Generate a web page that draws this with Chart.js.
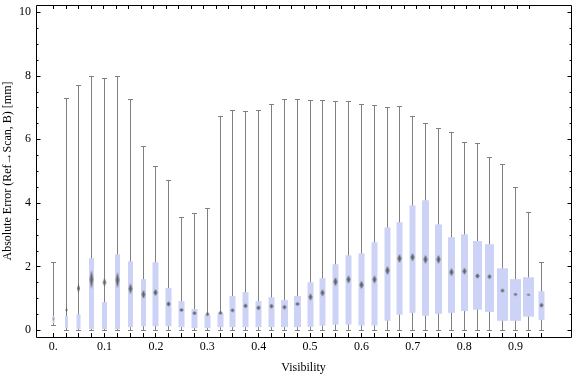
<!DOCTYPE html>
<html>
<head>
<meta charset="utf-8">
<script src="https://cdn.jsdelivr.net/npm/chart.js@4.4.0/dist/chart.umd.min.js"></script>
<style>
    html, body { margin: 0; padding: 0; background: #fff; }
</style>
</head>
<body>
<canvas id="chart" width="576" height="377"></canvas>
<script>
"use strict";

// one box per visibility bin
var visibility = [0, 0.025, 0.05, 0.075, 0.1, 0.125, 0.15, 0.175, 0.2, 0.225,
    0.25, 0.275, 0.3, 0.325, 0.35, 0.375, 0.4, 0.425, 0.45, 0.475,
    0.5, 0.525, 0.55, 0.575, 0.6, 0.625, 0.65, 0.675, 0.7, 0.725,
    0.75, 0.775, 0.8, 0.825, 0.85, 0.875, 0.9, 0.925, 0.95];
var whiskerLow = [0.13, 0, 0, 0, 0, 0, 0, 0, 0, 0,
    0, 0, 0, 0, 0, 0, 0, 0, 0, 0,
    0, 0, 0, 0, 0, 0, 0, 0, 0, 0,
    0, 0, 0, 0, 0, 0, 0, 0, 0];
var boxLow = [0.22, 0.07, 0.03, 0.03, 0.03, 0.03, 0.09, 0.12, 0.12, 0.12,
    0.09, 0.06, 0.06, 0.09, 0.09, 0.09, 0.09, 0.09, 0.09, 0.09,
    0.10, 0.14, 0.17, 0.17, 0.14, 0.14, 0.29, 0.48, 0.54, 0.45,
    0.51, 0.54, 0.60, 0.64, 0.57, 0.29, 0.29, 0.42, 0.32];
var boxHigh = [0.45, 0.44, 0.50, 2.26, 0.88, 2.38, 2.16, 1.60, 2.13, 1.32,
    0.91, 0.66, 0.47, 0.53, 1.07, 1.19, 0.91, 1.03, 0.94, 1.07,
    1.50, 1.63, 2.07, 2.35, 2.41, 2.76, 3.23, 3.39, 3.92, 4.08,
    3.32, 2.92, 3.01, 2.80, 2.70, 1.94, 1.60, 1.66, 1.22];
var whiskerHigh = [2.13, 7.29, 7.70, 7.97, 7.92, 7.97, 7.26, 5.77, 5.15, 4.69,
    3.53, 3.67, 3.81, 6.70, 6.89, 6.87, 6.89, 7.10, 7.25, 7.25,
    7.23, 7.23, 7.20, 7.20, 7.10, 7.07, 7.01, 7.04, 6.70, 6.48,
    6.35, 6.20, 5.91, 5.85, 5.42, 5.19, 4.47, 3.69, 2.12];
// mean marker (diamond) and its confidence half-range
var meanValue = [0.35, 0.63, 1.31, 1.59, 1.50, 1.57, 1.30, 1.12, 1.18, 0.82,
    0.63, 0.53, 0.50, 0.54, 0.62, 0.76, 0.70, 0.75, 0.72, 0.82,
    1.04, 1.17, 1.52, 1.59, 1.42, 1.59, 1.87, 2.25, 2.29, 2.22,
    2.22, 1.82, 1.85, 1.70, 1.68, 1.24, 1.12, 1.11, 0.78];
var meanConf = [0.08, 0.09, 0.16, 0.30, 0.125, 0.25, 0.17, 0.14, 0.11, 0.09,
    0.06, 0.06, 0.06, 0.06, 0.06, 0.08, 0.08, 0.08, 0.08, 0.06,
    0.11, 0.11, 0.14, 0.125, 0.125, 0.125, 0.14, 0.14, 0.125, 0.14,
    0.14, 0.125, 0.11, 0.09, 0.08, 0.06, 0.05, 0.03, 0.08];
// relative bin weight (box width)
var binWeight = [0.14, 0.27, 0.36, 0.45, 0.45, 0.45, 0.45, 0.45, 0.55, 0.55,
    0.55, 0.55, 0.55, 0.55, 0.55, 0.55, 0.55, 0.55, 0.62, 0.62,
    0.55, 0.55, 0.55, 0.55, 0.55, 0.55, 0.55, 0.55, 0.55, 0.64,
    0.64, 0.64, 0.64, 0.84, 0.82, 1.0, 1.0, 0.97, 0.57];

var xTickValues = [0, 0.1, 0.2, 0.3, 0.4, 0.5, 0.6, 0.7, 0.8, 0.9];
var xTickLabels = ["0.", "0.1", "0.2", "0.3", "0.4", "0.5", "0.6", "0.7", "0.8", "0.9"];
var yTickValues = [0, 2, 4, 6, 8, 10];

var BOX_COLOR = "rgb(204,211,246)";
var WHISKER_COLOR = "rgb(128,128,128)";
var MEAN_COLOR = "rgb(100,100,100)";
var FONT = { family: "'Liberation Serif', 'Times New Roman', serif", size: 12 };

function _boxPixelWidth(chart, i) {
    var xs = chart.scales.x;
    var step = xs.getPixelForValue(visibility[1]) - xs.getPixelForValue(visibility[0]);
    return binWeight[i] * 0.85 * step;
}

function _diamond(ctx) {
    var chart = ctx.chart;
    var ys = chart.scales.y;
    var i = ctx.dataIndex;
    if (ctx.type !== "data" || !ys || !isFinite(ys.getPixelForValue(0))) {
        return "rectRot";
    }
    var hh = Math.abs(ys.getPixelForValue(meanValue[i] + meanConf[i]) - ys.getPixelForValue(meanValue[i]));
    hh = Math.max(hh, 1);
    var hw = Math.min(2.0, 0.36 * _boxPixelWidth(chart, i));
    var c = document.createElement("canvas");
    c.width = Math.ceil(2 * hw) + 4;
    c.height = Math.ceil(2 * hh) + 4;
    var g = c.getContext("2d");
    var cx = c.width / 2, cy = c.height / 2;
    g.fillStyle = MEAN_COLOR;
    g.beginPath();
    g.moveTo(cx, cy - hh);
    g.lineTo(cx + hw, cy);
    g.lineTo(cx, cy + hh);
    g.lineTo(cx - hw, cy);
    g.closePath();
    g.fill();
    return c;
}

// keep the plot frame fixed: no extra room for edge labels
function _noPadding(axis) {
    axis.paddingLeft = 0;
    axis.paddingRight = 0;
    axis.paddingTop = 0;
    axis.paddingBottom = 0;
}

var framePlugin = {
    id: "frame",
    afterDatasetsUpdate: function(chart) {
        // snap marks to the pixel grid so 1px lines stay crisp
        [0, 1, 2, 3].forEach(function(d) {
            chart.getDatasetMeta(d).data.forEach(function(el) {
                el.x = Math.floor(el.x) + 0.5;
            });
        });
        chart.getDatasetMeta(2).data.forEach(function(el) {
            el.y = Math.floor(el.y) + 0.5;
        });
        // box widths follow the bin weight
        chart.getDatasetMeta(1).data.forEach(function(bar, i) {
            bar.width = Math.max(1, Math.round(_boxPixelWidth(chart, i)));
        });
    },
    afterDraw: function(chart) {
        var ctx = chart.ctx;
        var a = chart.chartArea;
        var xs = chart.scales.x, ys = chart.scales.y, xt = chart.scales.x2;
        ctx.save();
        ctx.strokeStyle = "#000";
        ctx.lineWidth = 1;
        ctx.beginPath();
        ctx.rect(a.left + 0.5, a.top + 0.5, a.right - a.left, a.bottom - a.top);
        for (var v = 0; v <= 10; v += 0.5) {
            var y = Math.round(ys.getPixelForValue(v)) + 0.5;
            var len = yTickValues.indexOf(v) >= 0 ? 4.5 : 2.5;
            ctx.moveTo(a.left, y);
            ctx.lineTo(a.left + len, y);
            ctx.moveTo(a.right + 1, y);
            ctx.lineTo(a.right + 1 - len, y);
        }
        visibility.forEach(function(val, i) {
            var x = Math.floor(xs.getPixelForValue(val)) + 0.5;
            ctx.moveTo(x, a.bottom);
            ctx.lineTo(x, a.bottom - 4);
            var xx = Math.round(xt.getPixelForValue(i)) + 0.5;
            ctx.moveTo(xx, a.top);
            ctx.lineTo(xx, a.top + 4);
        });
        ctx.stroke();
        ctx.restore();
    }
};

function _pairs(ys) {
    return visibility.map(function(x, i) {
        return { x: x, y: ys[i] };
    });
}

function _ranges(lo, hi) {
    return visibility.map(function(x, i) {
        return { x: x, y: [lo[i], hi[i]] };
    });
}

var caps = _pairs(whiskerLow).concat(_pairs(whiskerHigh));

new Chart(document.getElementById("chart"), {
    data: {
        datasets: [
            {
                type: "scatter",
                data: _pairs(meanValue),
                pointStyle: _diamond,
                pointRadius: 3,
                order: 0
            },
            {
                type: "bar",
                data: _ranges(boxLow, boxHigh),
                backgroundColor: BOX_COLOR,
                borderWidth: 0,
                inflateAmount: 0,
                grouped: false,
                order: 1
            },
            {
                type: "scatter",
                data: caps,
                pointStyle: "line",
                pointRadius: 2.5,
                borderWidth: 1,
                borderColor: WHISKER_COLOR,
                order: 2
            },
            {
                type: "bar",
                data: _ranges(whiskerLow, whiskerHigh),
                backgroundColor: WHISKER_COLOR,
                borderWidth: 0,
                inflateAmount: 0,
                grouped: false,
                maxBarThickness: 1,
                order: 3
            }
        ]
    },
    options: {
        responsive: false,
        animation: false,
        events: [],
        layout: { padding: { top: 4, right: 1, left: 0, bottom: 0 } },
        plugins: {
            legend: { display: false },
            tooltip: { enabled: false }
        },
        scales: {
            x: {
                type: "linear",
                position: "bottom",
                offset: false,
                min: -0.0334,
                max: 1.0079,
                afterBuildTicks: function(axis) {
                    axis.ticks = xTickValues.map(function(v) { return { value: v }; });
                },
                afterFit: function(axis) {
                    axis.height = 40;
                    _noPadding(axis);
                },
                grid: { display: false, drawTicks: false, offset: false },
                border: { display: false },
                ticks: {
                    autoSkip: false,
                    maxRotation: 0,
                    padding: 3,
                    color: "#000",
                    font: FONT,
                    callback: function(value, index) { return xTickLabels[index]; }
                },
                title: {
                    display: true,
                    text: "Visibility",
                    color: "#000",
                    font: FONT,
                    padding: { top: 0, bottom: 2 }
                }
            },
            x2: {
                type: "linear",
                position: "top",
                offset: false,
                min: -1.371,
                max: 41.35,
                afterBuildTicks: function(axis) {
                    axis.ticks = visibility.map(function(v, i) { return { value: i }; });
                },
                afterFit: function(axis) {
                    axis.height = 0;
                    _noPadding(axis);
                },
                grid: { display: false, drawTicks: false },
                border: { display: false },
                ticks: { display: false }
            },
            y: {
                type: "linear",
                position: "left",
                offset: false,
                min: -0.219,
                max: 10.22,
                afterBuildTicks: function(axis) {
                    axis.ticks = yTickValues.map(function(v) { return { value: v }; });
                },
                afterFit: function(axis) {
                    axis.width = 36;
                    _noPadding(axis);
                },
                grid: { display: false, drawTicks: false },
                border: { display: false },
                ticks: {
                    padding: 5,
                    color: "#000",
                    font: FONT
                },
                title: {
                    display: true,
                    text: "Absolute Error (Ref\u2192Scan, B) [mm]",
                    color: "#000",
                    font: FONT,
                    padding: { top: 1, bottom: 0 }
                }
            }
        }
    },
    plugins: [framePlugin]
});
</script>
</body>
</html>
